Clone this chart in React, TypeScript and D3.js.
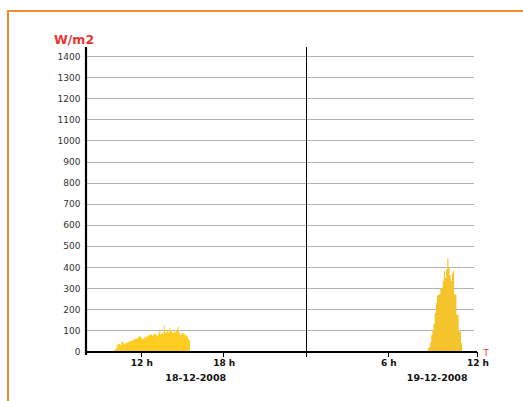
import React from "react";
import * as d3 from "d3";

// Irradiance, W/m2, 5-minute bars
const day1Start = 10 + 5 / 60; // 18-12-2008, 10:05
const day1Values = [
  10, 14, 32, 35, 36, 30, 45, 47, 34, 38, 42, 40, 46, 48, 50, 52, 56, 58, 62, 60,
  64, 72, 70, 66, 58, 62, 68, 66, 72, 75, 78, 82, 78, 75, 82, 86, 78, 74, 84, 96,
  80, 84, 90, 122, 88, 92, 96, 90, 112, 102, 92, 88, 95, 92, 98, 116, 90, 80, 78, 90,
  86, 80, 76, 72, 60, 52,
];
const day2Start = 24 + 8 + 55 / 60; // 19-12-2008, 08:55
const day2Values = [
  16, 20, 44, 79, 100, 130, 182, 230, 265, 268, 272, 300, 300, 332, 380, 348, 387, 440,
  400, 363, 335, 371, 382, 270, 269, 174, 174, 95, 95, 40,
];
const stepHours = 5 / 60;

const yTicks = [0, 100, 200, 300, 400, 500, 600, 700, 800, 900, 1000, 1100, 1200, 1300, 1400];
const xTickHours = [12, 18, 30, 36.5];
const xTickLabels = ["12 h", "18 h", "6 h", "12 h"];
const dateHours = [16, 33.6];
const dateLabels = ["18-12-2008", "19-12-2008"];
const midnightHour = 24;

const FONT = "'DejaVu Sans', Verdana, sans-serif";

export default function App() {
  const x = d3.scaleLinear().domain([8, 36.5]).range([86, 477]);
  const y = d3.scaleLinear().domain([0, 1400]).range([351.5, 56]);
  const x0 = x(8);
  const gridEnd = 474;

  const area = d3
    .area<[number, number]>()
    .x((d) => x(d[0]))
    .y0(y(0))
    .y1((d) => y(d[1]))
    .curve(d3.curveStepAfter);

  const barsPath = (start: number, vals: number[]) => {
    const pts: [number, number][] = vals.map((v, i) => [start + i * stepHours, v]);
    pts.push([start + vals.length * stepHours, vals[vals.length - 1]]);
    return area(pts) || "";
  };

  return (
    <svg
      width={523}
      height={401}
      style={{ position: "absolute", left: 0, top: 0, background: "#fff" }}
    >
      <rect x={8} y={11} width={700} height={600} fill="#fff" stroke="#f18a35" strokeWidth={2} />

      {/* gridlines */}
      {yTicks.filter((t) => t > 0).map((t) => (
        <line key={"g" + t} x1={x0} x2={gridEnd} y1={Math.round(y(t)) + 0.5} y2={Math.round(y(t)) + 0.5} stroke="#b3b3b3" strokeWidth={1} />
      ))}

      {/* y labels */}
      {yTicks.map((t) => (
        <text key={"yl" + t} x={80.5} y={y(t) + 3.5} textAnchor="end" fontFamily={FONT} fontSize={9} fill="#333">
          {t}
        </text>
      ))}

      {/* bars */}
      <path d={barsPath(day1Start, day1Values)} fill="#ffcc22" />
      <path d={barsPath(day2Start, day2Values)} fill="#f5c42c" />

      {/* midnight separator */}
      <line x1={Math.round(x(midnightHour)) + 0.5} x2={Math.round(x(midnightHour)) + 0.5} y1={47} y2={357} stroke="#000" strokeWidth={1} />

      {/* axes */}
      <line x1={x0} x2={x0} y1={47} y2={355} stroke="#000" strokeWidth={2.2} />
      <line x1={x0 - 1} x2={x(36.5)} y1={352} y2={352} stroke="#000" strokeWidth={2} />

      {/* x ticks */}
      {xTickHours.map((h, i) => (
        <g key={"xt" + i}>
          <line x1={Math.round(x(h)) + 0.5} x2={Math.round(x(h)) + 0.5} y1={352} y2={357} stroke="#000" strokeWidth={1} />
          <text x={x(h) + 1} y={366} textAnchor="middle" fontFamily={FONT} fontWeight="bold" fontSize={9} fill="#111">
            {xTickLabels[i]}
          </text>
        </g>
      ))}

      {/* dates */}
      {dateHours.map((h, i) => (
        <text key={"d" + i} x={x(h)} y={381} textAnchor="middle" fontFamily={FONT} fontWeight="bold" fontSize={9.5} fill="#111">
          {dateLabels[i]}
        </text>
      ))}

      {/* axis titles */}
      <text x={54} y={43.5} fontFamily={FONT} fontWeight="bold" fontSize={12.5} fill="#e8352f">
        W/m2
      </text>
      <text x={486} y={355.5} textAnchor="middle" fontFamily={FONT} fontSize={8.5} fill="#e8352f">
        T
      </text>
    </svg>
  );
}
